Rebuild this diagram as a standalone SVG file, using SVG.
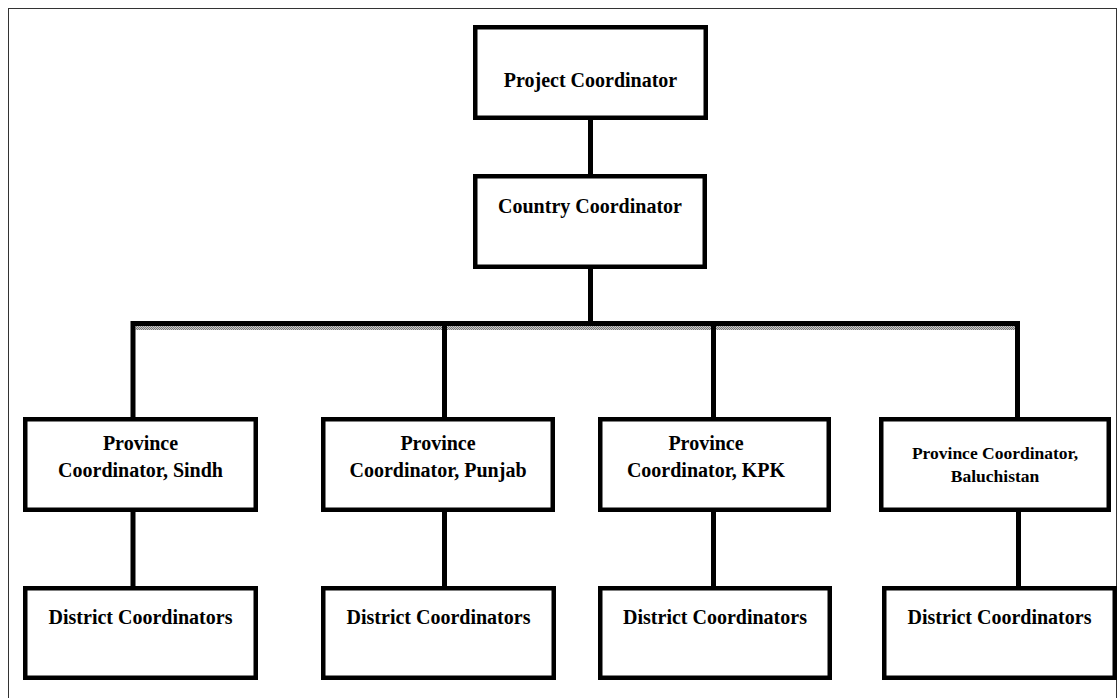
<svg xmlns="http://www.w3.org/2000/svg" width="1119" height="698" viewBox="0 0 1119 698">
<style>
.box{fill:#fff;stroke:#000;stroke-width:4.5}
.t{font-family:"Liberation Serif","Times New Roman",serif;font-weight:bold;font-size:20px;text-anchor:middle;fill:#000}
.ts{font-size:17.5px}
.c{stroke:#000;stroke-width:5;fill:none}
</style>
<defs>
<pattern id="hatch" width="2" height="2" patternUnits="userSpaceOnUse">
<rect width="2" height="2" fill="#c8c8c8"/>
<rect width="1" height="1" fill="#7a7a7a"/>
<rect x="1" y="1" width="1" height="1" fill="#7a7a7a"/>
</pattern>
</defs>
<rect x="8.5" y="8.5" width="1108" height="720" fill="#fff" stroke="#333" stroke-width="1"/>
<g id="connectors">
<line class="c" x1="590.5" y1="118" x2="590.5" y2="176"/>
<line class="c" x1="590.5" y1="267" x2="590.5" y2="323"/>
<rect x="131" y="321" width="889" height="5" fill="#000"/>
<rect x="135.5" y="326" width="880" height="4" fill="url(#hatch)"/>
<line class="c" x1="133" y1="321" x2="133" y2="419"/>
<line class="c" x1="444.5" y1="321" x2="444.5" y2="419"/>
<line class="c" x1="713.5" y1="321" x2="713.5" y2="419"/>
<line class="c" x1="1017.5" y1="321" x2="1017.5" y2="419"/>
<line class="c" x1="133" y1="510" x2="133" y2="588"/>
<line class="c" x1="444.5" y1="510" x2="444.5" y2="588"/>
<line class="c" x1="713.5" y1="510" x2="713.5" y2="588"/>
<line class="c" x1="1018.5" y1="510" x2="1018.5" y2="588"/>
</g>
<g id="project">
<rect class="box" x="475.25" y="27.25" width="230.5" height="90.5"/>
<text class="t" x="590.5" y="87">Project Coordinator</text>
</g>
<g id="country">
<rect class="box" x="475.25" y="176.25" width="229.5" height="90.5"/>
<text class="t" x="590" y="213">Country Coordinator</text>
</g>
<g id="prov-sindh">
<rect class="box" x="25.25" y="419.25" width="230.5" height="90.5"/>
<text class="t" x="140.5" y="450">Province</text>
<text class="t" x="140.5" y="477">Coordinator, Sindh</text>
</g>
<g id="prov-punjab">
<rect class="box" x="323.25" y="419.25" width="229.5" height="90.5"/>
<text class="t" x="438" y="450">Province</text>
<text class="t" x="438" y="477">Coordinator, Punjab</text>
</g>
<g id="prov-kpk">
<rect class="box" x="600.25" y="419.25" width="228.5" height="90.5"/>
<text class="t" x="706" y="450">Province</text>
<text class="t" x="706" y="477">Coordinator, KPK</text>
</g>
<g id="prov-baluchistan">
<rect class="box" x="881.25" y="419.25" width="227.5" height="90.5"/>
<text class="t ts" x="995" y="459">Province Coordinator,</text>
<text class="t ts" x="995" y="482">Baluchistan</text>
</g>
<g id="dist-sindh">
<rect class="box" x="25.25" y="588.25" width="230.5" height="89.5"/>
<text class="t" x="140.5" y="624">District Coordinators</text>
</g>
<g id="dist-punjab">
<rect class="box" x="323.25" y="588.25" width="230.5" height="89.5"/>
<text class="t" x="438.5" y="624">District Coordinators</text>
</g>
<g id="dist-kpk">
<rect class="box" x="600.25" y="588.25" width="229.5" height="89.5"/>
<text class="t" x="715" y="624">District Coordinators</text>
</g>
<g id="dist-baluchistan">
<rect class="box" x="884.25" y="588.25" width="230.5" height="89.5"/>
<text class="t" x="999.5" y="624">District Coordinators</text>
</g>
</svg>
